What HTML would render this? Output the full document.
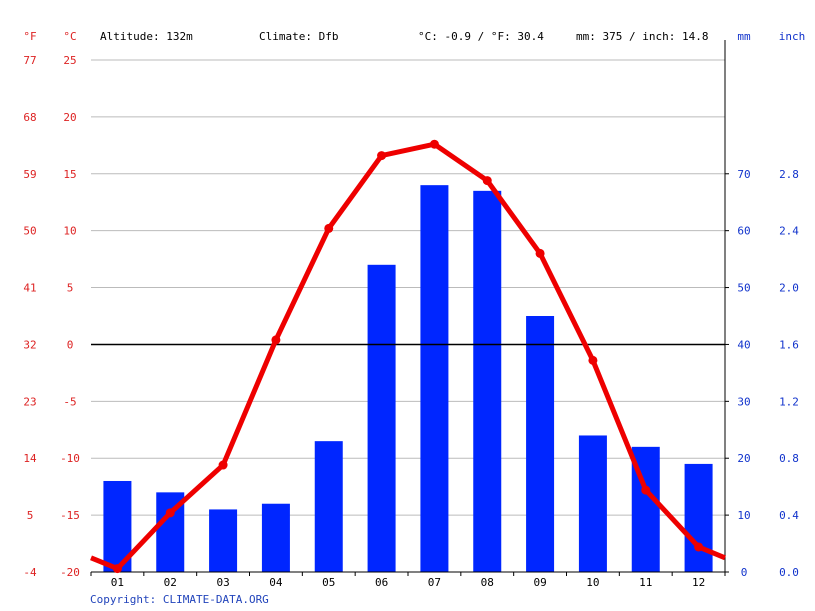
<!DOCTYPE html>
<html><head><meta charset="utf-8"><style>
html,body{margin:0;padding:0;background:#fff;}
svg{display:block;font-family:"DejaVu Sans Mono","Liberation Mono",monospace;font-size:11px;}
</style></head><body>
<svg id="chart" width="815" height="611" xmlns="http://www.w3.org/2000/svg">
<g id="grid"></g>
<g id="bars"></g>
<g id="axes"></g>
<g id="line"></g>
<g id="labels"></g>
<text x="30" y="40" fill="#d22" text-anchor="middle">°F</text>
<text x="70" y="40" fill="#d22" text-anchor="middle">°C</text>
<text x="100" y="40" fill="#000">Altitude: 132m</text>
<text x="259" y="40" fill="#000">Climate: Dfb</text>
<text x="418" y="40" fill="#000">°C: -0.9 / °F: 30.4</text>
<text x="576" y="40" fill="#000">mm: 375 / inch: 14.8</text>
<text x="744" y="40" fill="#1133cc" text-anchor="middle">mm</text>
<text x="792" y="40" fill="#1133cc" text-anchor="middle">inch</text>
<text x="90" y="603" fill="#2244bb">Copyright: CLIMATE-DATA.ORG</text>
</svg>
<script>
const months = ["01","02","03","04","05","06","07","08","09","10","11","12"];
const precipMm = [16,14,11,12,23,54,68,67,45,24,22,19];
const tempC = [-19.7,-14.8,-10.6,0.4,10.2,16.6,17.6,14.4,8.0,-1.4,-12.8,-17.8];
const cTicks = [25,20,15,10,5,0,-5,-10,-15,-20];
const fTicks = ["77","68","59","50","41","32","23","14","5","-4"];
const mmTicks = [0,10,20,30,40,50,60,70];
const inchTicks = ["0.0","0.4","0.8","1.2","1.6","2.0","2.4","2.8"];

const NS="http://www.w3.org/2000/svg";
const X0=91,X1=725,Y0=572,YTOP=60;
const step=(X1-X0)/12;
const yC=c=>Y0-(c+20)*(Y0-YTOP)/45;
const yMm=m=>Y0-m*(Y0-YTOP)/90;
const xM=i=>X0+step*(i+0.5);
function mk(tag,attrs,parent,txt){const e=document.createElementNS(NS,tag);for(const k in attrs)e.setAttribute(k,attrs[k]);if(txt!==undefined)e.textContent=txt;document.getElementById(parent).appendChild(e);return e;}

cTicks.forEach((c,i)=>{
  const y=yC(c);
  if(c!==-20&&c!==0){const g=mk('line',{x1:X0,x2:X1,y1:y,y2:y,stroke:'#bbb','stroke-width':1},'grid');
  
  }
  const t=mk('text',{x:70,y:y+4,fill:'#d22','text-anchor':'middle'},'labels',String(c));
  
  
  const f=mk('text',{x:30,y:y+4,fill:'#d22','text-anchor':'middle'},'labels',fTicks[i]);
  
  
});
mmTicks.forEach((m,i)=>{
  const y=yMm(m);
  const t=mk('text',{x:744,y:y+4,fill:'#1133cc','text-anchor':'middle'},'labels',String(m));
  
  
  const u=mk('text',{x:789,y:y+4,fill:'#1133cc','text-anchor':'middle'},'labels',inchTicks[i]);
  
  
  const tk=mk('line',{x1:X1,x2:X1+4,y1:y,y2:y,stroke:'#000'},'axes');
  
  
});
precipMm.forEach((m,i)=>{
  const b=mk('rect',{x:xM(i)-14,y:yMm(m),width:28,height:Y0-yMm(m),fill:'#0026ff'},'bars');
  
  
});
months.forEach((m,i)=>{
  const t=mk('text',{x:xM(i),y:586,fill:'#000','text-anchor':'middle'},'labels',m);
  
  
});
for(let i=0;i<=12;i++){const tk=mk('line',{x1:X0+step*i,x2:X0+step*i,y1:Y0,y2:Y0+4,stroke:'#000'},'axes');
  
  }
const z=mk('line',{x1:X0,x2:X1,y1:yC(0),y2:yC(0),stroke:'#000','stroke-width':1.5},'axes');


const xa=mk('line',{x1:X0,x2:X1,y1:Y0,y2:Y0,stroke:'#000'},'axes');


const ra=mk('line',{x1:X1,x2:X1,y1:40,y2:Y0,stroke:'#000'},'axes');



const edge=(tempC[0]+tempC[11])/2;
let pts=[[X0,yC(edge)]];
tempC.forEach((c,i)=>pts.push([xM(i),yC(c)]));
pts.push([X1,yC(edge)]);
const pl=mk('polyline',{points:pts.map(p=>p.join(',')).join(' '),fill:'none',stroke:'#ee0000','stroke-width':5,'stroke-linejoin':'round'},'line');


tempC.forEach((c,i)=>{
  const d=mk('circle',{cx:xM(i),cy:yC(c),r:4.5,fill:'#ee0000'},'line');
  
  
});
</script>
</body></html>
